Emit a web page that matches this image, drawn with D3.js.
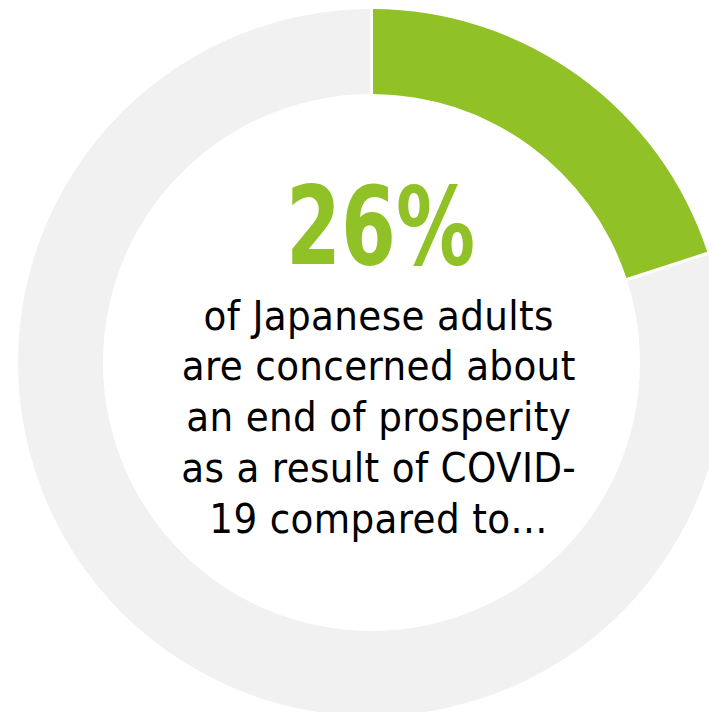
<!DOCTYPE html>
<html>
<head>
<meta charset="utf-8">
<script src="https://cdn.jsdelivr.net/npm/d3@7"></script>
<style>
  html, body { margin: 0; padding: 0; background: #ffffff; overflow: hidden; }
  svg { display: block; }
</style>
</head>
<body>
<svg id="chart" width="709" height="712"></svg>
<script>
// ---- data ----
const categories = ["Concerned about an end of prosperity", "Other"];
const values = [20, 80];          // share of the ring as drawn
const colors = ["#90c127", "#f1f1f1"];
const headline = "26%";
const bodyLines = [
  "of Japanese adults",
  "are concerned about",
  "an end of prosperity",
  "as a result of COVID-",
  "19 compared to…"
];

// ---- layout ----
const W = 709, H = 712;
const cx = 371.5, cy = 362.5;
const outerR = 353.5, innerR = 268.5;

const svg = d3.select("#chart");
const g = svg.append("g").attr("transform", `translate(${cx},${cy})`);

const pie = d3.pie().sort(null).value(d => d.value);
const arc = d3.arc()
  .innerRadius(innerR)
  .outerRadius(outerR)
  .padRadius(300)
  .padAngle(3 / 300);

const data = categories.map((c, i) => ({ name: c, value: values[i], color: colors[i] }));

g.selectAll("path.slice")
  .data(pie(data))
  .join("path")
  .attr("class", "slice")
  .attr("d", arc)
  .attr("fill", d => d.data.color);

// ---- text ----
const textX = 378.5;
const head = svg.append("text")
  .attr("x", textX + 2)
  .attr("y", 264)
  .attr("text-anchor", "middle")
  .attr("font-family", "'DejaVu Sans Condensed', 'DejaVu Sans', sans-serif")
  .attr("font-weight", "bold")
  .attr("font-size", 108)
  .attr("fill", colors[0])
  .text(headline);
head.attr("textLength", 189).attr("lengthAdjust", "spacingAndGlyphs");

const lineH = 50.9;
svg.append("g").selectAll("text.body")
  .data(bodyLines)
  .join("text")
  .attr("class", "body")
  .attr("x", textX + 0.2)
  .attr("y", (d, i) => 329.5 + i * lineH)
  .attr("text-anchor", "middle")
  .attr("font-family", "'DejaVu Sans Condensed', 'DejaVu Sans', sans-serif")
  .attr("font-size", 41.5)
  .attr("letter-spacing", 0.35)
  .attr("fill", "#000000")
  .text(d => d);
</script>
</body>
</html>
